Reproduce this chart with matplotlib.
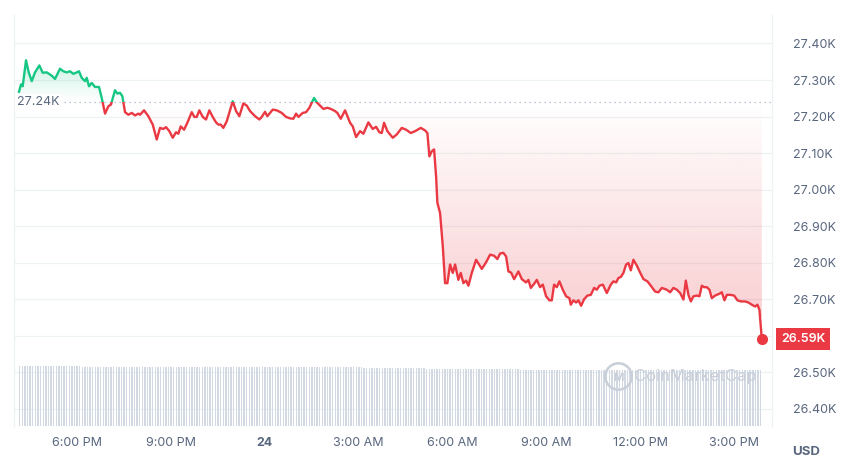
import numpy as np
import matplotlib
matplotlib.use("Agg")
import matplotlib.pyplot as plt
from matplotlib.patches import Rectangle
from matplotlib.path import Path
import matplotlib.transforms as mtransforms

# price trace, time in hours after 6:00 PM (day 23), price in USD
hours = [
    -1.853, -1.789, -1.735, -1.629, -1.543, -1.447, -1.342, -1.204, -1.096, -0.968,
    -0.808, -0.703, -0.543, -0.438, -0.329, -0.224, -0.118, -0.032, 0.064, 0.150,
    0.256, 0.310, 0.383, 0.470, 0.575, 0.703, 0.789, 0.895, 1.000, 1.086,
    1.214, 1.288, 1.374, 1.447, 1.534, 1.639, 1.748, 1.853, 1.958, 2.013,
    2.141, 2.278, 2.419, 2.546, 2.652, 2.757, 2.843, 2.949, 3.058, 3.163,
    3.236, 3.313, 3.419, 3.524, 3.665, 3.748, 3.824, 3.907, 4.016, 4.121,
    4.227, 4.335, 4.441, 4.514, 4.591, 4.674, 4.783, 4.888, 4.974, 5.080,
    5.185, 5.313, 5.422, 5.527, 5.687, 5.824, 5.901, 6.006, 6.080, 6.252,
    6.380, 6.540, 6.677, 6.805, 6.911, 6.997, 7.070, 7.211, 7.316, 7.422,
    7.572, 7.658, 7.764, 7.869, 7.997, 8.105, 8.243, 8.316, 8.425, 8.562,
    8.722, 8.808, 8.914, 9.042, 9.147, 9.307, 9.447, 9.553, 9.658, 9.735,
    9.808, 9.914, 10.086, 10.214, 10.374, 10.511, 10.661, 10.799, 10.981, 11.118,
    11.192, 11.256, 11.332, 11.406, 11.470, 11.511, 11.597, 11.684, 11.757, 11.831,
    11.917, 12.003, 12.077, 12.182, 12.259, 12.342, 12.428, 12.502, 12.610, 12.748,
    12.930, 13.067, 13.195, 13.323, 13.428, 13.514, 13.620, 13.706, 13.780, 13.866,
    13.962, 14.099, 14.208, 14.345, 14.419, 14.495, 14.601, 14.687, 14.792, 14.879,
    14.984, 15.089, 15.166, 15.240, 15.326, 15.409, 15.518, 15.623, 15.728, 15.773,
    15.856, 15.942, 16.016, 16.102, 16.198, 16.304, 16.412, 16.518, 16.604, 16.687,
    16.796, 16.923, 17.051, 17.134, 17.220, 17.294, 17.371, 17.454, 17.540, 17.613,
    17.690, 17.773, 17.882, 17.987, 18.093, 18.220, 18.329, 18.466, 18.572, 18.681,
    18.840, 18.946, 19.051, 19.160, 19.265, 19.371, 19.447, 19.530, 19.607, 19.690,
    19.799, 19.882, 19.958, 20.032, 20.118, 20.201, 20.278, 20.383, 20.521, 20.597,
    20.681, 20.757, 20.863, 20.990, 21.096, 21.204, 21.342, 21.447, 21.556, 21.661,
    21.735, 21.799, 21.875,
]
price = [
    27268, 27288, 27283, 27354, 27321, 27297, 27321, 27340, 27320, 27321,
    27312, 27303, 27331, 27324, 27321, 27324, 27317, 27320, 27324, 27306,
    27297, 27306, 27283, 27292, 27281, 27281, 27251, 27208, 27228, 27233,
    27272, 27263, 27265, 27256, 27212, 27205, 27210, 27203, 27208, 27205,
    27217, 27201, 27178, 27137, 27169, 27166, 27171, 27160, 27142, 27157,
    27153, 27173, 27164, 27183, 27212, 27199, 27199, 27217, 27199, 27192,
    27217, 27199, 27184, 27178, 27178, 27169, 27187, 27217, 27242, 27215,
    27201, 27236, 27230, 27215, 27201, 27192, 27199, 27213, 27201, 27219,
    27217, 27210, 27199, 27195, 27194, 27208, 27199, 27210, 27212, 27224,
    27251, 27239, 27230, 27221, 27224, 27221, 27215, 27210, 27194, 27217,
    27183, 27173, 27144, 27160, 27153, 27184, 27166, 27172, 27157, 27155,
    27183, 27160, 27142, 27151, 27169, 27164, 27155, 27160, 27169, 27162,
    27155, 27091, 27105, 27110, 27036, 26964, 26936, 26845, 26744, 26744,
    26795, 26772, 26795, 26753, 26772, 26744, 26751, 26737, 26772, 26808,
    26783, 26801, 26822, 26819, 26810, 26825, 26827, 26817, 26776, 26773,
    26755, 26776, 26755, 26746, 26753, 26731, 26742, 26753, 26733, 26740,
    26708, 26697, 26697, 26740, 26733, 26749, 26726, 26708, 26703, 26685,
    26697, 26691, 26697, 26682, 26700, 26710, 26712, 26731, 26726, 26737,
    26740, 26717, 26740, 26749, 26746, 26758, 26761, 26772, 26795, 26799,
    26779, 26808, 26792, 26773, 26755, 26749, 26737, 26721, 26719, 26731,
    26726, 26719, 26731, 26726, 26717, 26699, 26751, 26712, 26694, 26708,
    26710, 26708, 26737, 26733, 26733, 26726, 26703, 26710, 26715, 26719,
    26697, 26712, 26712, 26710, 26697, 26694, 26694, 26691, 26685, 26680,
    26685, 26671, 26590,
]
open_price = 27240
last_label = "26.59K"

# 24h volume, one level per hour (billions USD), 12 bars per hour
vol_hourly = [12.0, 12.0, 11.9, 11.9, 11.9, 11.9, 11.9, 11.8, 11.8, 11.8, 11.8, 11.7,
              11.6, 11.5, 11.4, 11.4, 11.3, 11.3, 11.3, 11.3, 11.3, 11.2, 11.2, 11.2]

yticks = [26400, 26500, 26600, 26700, 26800, 26900, 27000, 27100, 27200, 27300, 27400]
ytick_labels = ["26.40K", "26.50K", "", "26.70K", "26.80K", "26.90K", "27.00K",
                "27.10K", "27.20K", "27.30K", "27.40K"]
xticks = [0, 3, 6, 9, 12, 15, 18, 21]
xtick_labels = ["6:00 PM", "9:00 PM", "24", "3:00 AM", "6:00 AM", "9:00 AM", "12:00 PM", "3:00 PM"]

green = "#16c784"
red = "#ea3943"
gray = "#58667e"

plt.rcParams['font.family'] = ['Inter', 'DejaVu Sans']

t = np.array(hours)
p = np.array(price, dtype=float)
xmin, xmax = -2.013, 22.20
ymin, ymax = 26353, 27478

fig = plt.figure(figsize=(8.5, 4.65), dpi=100)
ax = fig.add_axes([14/850, 1-426/465, (772-14)/850, (426-15)/465])
ax.set_xlim(xmin, xmax)
ax.set_ylim(ymin, ymax)

# volume bars on a twin axis
ax2 = ax.twinx()
vol = np.repeat(vol_hourly, 12)
vt = np.arange(-1.83, 21.85, 1/12)
n = min(len(vt), len(vol))
ax2.bar(vt[:n], vol[:n], width=0.045, color="#d3d9e3", linewidth=0, zorder=1)
ax2.set_ylim(0, 12.0*411/60)
ax2.set_yticks([])
for s in ax2.spines.values():
    s.set_visible(False)

# gridlines
for yt in yticks:
    ax.axhline(yt, color="#eff2f5", lw=0.9, zorder=0)

# gradient fills
def grad_fill(mask_above, color, y0, y1, a0, a1):
    poly = ax.fill_between(t, p, open_price, where=mask_above, interpolate=True,
                           color="none", linewidth=0)
    path = Path.make_compound_path(*poly.get_paths())
    rgb = matplotlib.colors.to_rgb(color)
    grad = np.zeros((100, 1, 4))
    grad[:, 0, :3] = rgb
    grad[:, 0, 3] = np.linspace(a0, a1, 100)
    im = ax.imshow(grad, extent=[xmin, xmax, y0, y1], origin="lower",
                   aspect="auto", zorder=1)
    im.set_clip_path(path, transform=ax.transData)

grad_fill(p >= open_price, green, open_price, 27360, 0.0, 0.24)
grad_fill(p <= open_price, red, 26650, open_price, 0.24, 0.0)

# price line split at the opening price
lg, = ax.plot(t, p, color=green, lw=1.7, zorder=3, solid_joinstyle="round")
lg.set_clip_path(Rectangle((xmin, open_price), xmax - xmin, 2000, transform=ax.transData))
lr, = ax.plot(t, p, color=red, lw=1.7, zorder=3, solid_joinstyle="round")
lr.set_clip_path(Rectangle((xmin, open_price - 2000), xmax - xmin, 2000, transform=ax.transData))
ax.plot(t[-1], p[-1], "o", color=red, ms=7, zorder=4)

# opening price reference
ax.axhline(open_price, color="#a6b0c3", lw=0.9, ls=(0, (1, 3)), zorder=2)
ax.text(-1.93, open_price, "27.24K", color=gray, fontsize=9, ha="left", va="center",
        zorder=5, bbox=dict(boxstyle="square,pad=0.15", fc="white", ec="none"))

# last price label
trans = mtransforms.blended_transform_factory(ax.transAxes, ax.transData)
ax.text(1.0 + 9/758, p[-1], last_label, transform=trans, color="white", fontsize=9,
        fontweight="semibold", ha="left", va="center", clip_on=False, zorder=6,
        bbox=dict(boxstyle="square,pad=0.4", fc=red, ec="none"))

# axes styling
ax.yaxis.tick_right()
ax.set_yticks(yticks)
ax.set_yticklabels(ytick_labels)
ax.set_xticks(xticks)
ax.set_xticklabels(xtick_labels)
ax.tick_params(axis="y", length=0, pad=15, labelsize=9, labelcolor=gray)
ax.tick_params(axis="x", length=0, pad=8, labelsize=9, labelcolor=gray)
for lbl in ax.get_xticklabels():
    if lbl.get_text() == "24":
        lbl.set_fontweight("bold")
for side in ["top", "bottom"]:
    ax.spines[side].set_visible(False)
for side in ["left", "right"]:
    ax.spines[side].set_color("#eff2f5")
    ax.spines[side].set_linewidth(0.9)

# watermark
wm = "#c8cfd9"
ax2.plot(0.797, 0.121, "o", ms=19, mfc="none", mec=wm, mew=1.8,
         transform=ax.transAxes, zorder=5)
ax2.text(0.797, 0.118, "M", transform=ax.transAxes, color=wm, fontsize=8,
         fontweight="bold", ha="center", va="center", zorder=5)
ax2.text(0.818, 0.121, "CoinMarketCap", transform=ax.transAxes, color=wm,
         fontsize=12, ha="left", va="center", zorder=5)

fig.text(806/850, 1-452/465, "USD", color=gray, fontsize=9.5, fontweight="bold",
         ha="center", va="center")

fig.savefig("out.png", dpi=100, facecolor="white")
